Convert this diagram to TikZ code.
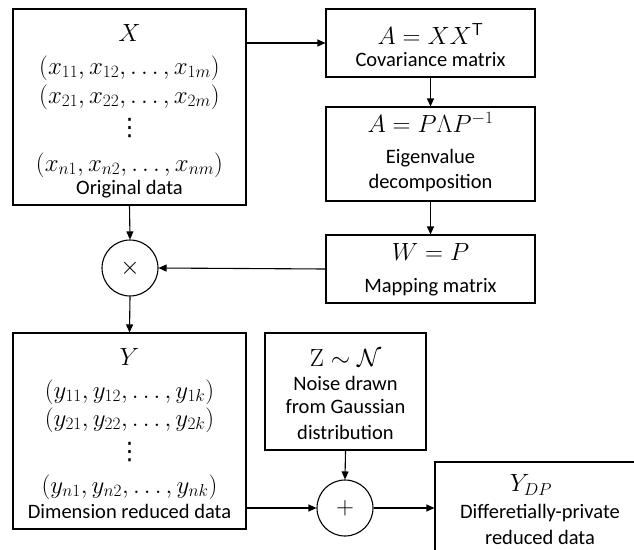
\documentclass[tikz,border=0pt]{standalone}
\usepackage[no-math]{fontspec}
\setmainfont{Carlito}
\newfontfamily\dejavu{DejaVu Sans}
\usetikzlibrary{arrows.meta}
\begin{document}
\begin{tikzpicture}[x=1pt,y=-1pt,
  box/.style={draw,line width=1.1pt,rectangle,inner sep=0pt},
  circ/.style={draw,line width=1.1pt,circle,inner sep=0pt,minimum size=56pt},
  mth/.style={inner sep=0pt,font=\fontsize{25}{30}\selectfont},
  dts/.style={inner sep=0pt,font=\dejavu\fontsize{24}{24}\selectfont},
  txt/.style={inner sep=0pt,font=\fontsize{20.5}{25}\selectfont},
  arr/.style={line width=1.1pt,-{Triangle[length=8pt,width=7pt]}}]
\clip (0,0) rectangle (634,549);
\fill[white] (0,0) rectangle (634,549);
% boxes
\node[box,minimum width=233pt,minimum height=196pt] (X) at (129.5,107) {};
\node[box,minimum width=209pt,minimum height=68pt] (Cov) at (430.5,43) {};
\node[box,minimum width=209pt,minimum height=94pt] (Eig) at (430.5,154) {};
\node[box,minimum width=209pt,minimum height=68pt] (Map) at (430.5,269) {};
\node[box,minimum width=233pt,minimum height=196pt] (Y) at (129.5,431) {};
\node[box,minimum width=161pt,minimum height=117pt] (N) at (345.5,391.5) {};
\node[box,minimum width=210pt,minimum height=95pt] (YDP) at (540,509.5) {};
\node[circ] (times) at (130,268) {};
\node[circ] (plus) at (345,508) {};
% texts in X
\node[mth] (xt0) at (129.5,33) {$X$};
\node[mth] (xt1) at (129.5,68) {$(x_{11},x_{12},\ldots,x_{1m})$};
\node[mth] (xt2) at (129.5,97) {$(x_{21},x_{22},\ldots,x_{2m})$};
\node[dts] (xt3) at (129.5,128) {⋮};
\node[mth] (xt4) at (129.5,165) {$(x_{n1},x_{n2},\ldots,x_{nm})$};
\node[txt] (xt5) at (129.5,189) {Original data};
% Cov
\node[mth] (ct0) at (430.5,34) {$A=XX^{\mathsf{T}}$};
\node[txt] (ct1) at (430.5,60) {Covariance matrix};
% Eig
\node[mth] (et0) at (430.5,122) {$A=P\Lambda P^{-1}$};
\node[txt] (et1) at (430.5,158) {Eigenvalue};
\node[txt] (et2) at (430.5,183) {decomposition};
% Map
\node[mth] (mt0) at (430.5,252) {$W=P$};
\node[txt] (mt1) at (430.5,287) {Mapping matrix};
% Y
\node[mth] (yt0) at (129.5,357) {$Y$};
\node[mth] (yt1) at (129.5,392) {$(y_{11},y_{12},\ldots,y_{1k})$};
\node[mth] (yt2) at (129.5,420) {$(y_{21},y_{22},\ldots,y_{2k})$};
\node[dts] (yt3) at (129.5,452) {⋮};
\node[mth] (yt4) at (129.5,487) {$(y_{n1},y_{n2},\ldots,y_{nk})$};
\node[txt] (yt5) at (129.5,511) {Dimension reduced data};
% Noise
\node[mth] (nt0) at (345.5,358) {$\mathrm{Z}\sim\mathcal{N}$};
\node[txt] (nt1) at (345.5,383) {Noise drawn};
\node[txt] (nt2) at (345.5,407) {from Gaussian};
\node[txt] (nt3) at (345.5,432) {distribution};
% YDP
\node[mth] (dt0) at (531,485) {$Y_{DP}$};
\node[txt] (dt1) at (540,513) {Differetially-private};
\node[txt] (dt2) at (540,537) {reduced data};
% operators
\node[mth] (op1) at (times) {$\times$};
\node[mth] (op2) at (plus) {$+$};
% connectors
\draw[arr] (X.east |- Cov.west) -- (Cov.west);
\draw[arr] (Cov.south) -- (Eig.north);
\draw[arr] (Eig.south) -- (Map.north);
\draw[arr] (Map.west) -- (times.east);
\draw[arr] (X.south) -- (times.north);
\draw[arr] (times.south) -- (Y.north);
\draw[arr] (N.south) -- (plus.north);
\draw[arr] (Y.east |- plus.west) -- (plus.west);
\draw[arr] (plus.east) -- (YDP.west |- plus.east);
\end{tikzpicture}
\end{document}
